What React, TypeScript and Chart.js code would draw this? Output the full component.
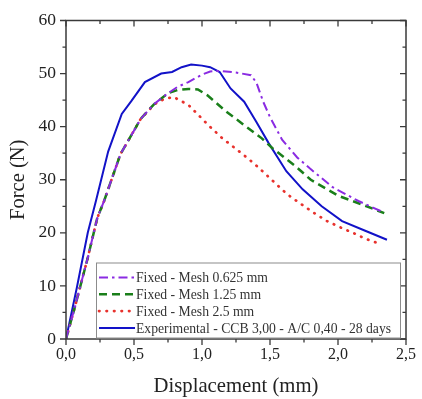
import React, { useEffect, useRef } from "react";
import { Chart, registerables } from "chart.js";

Chart.register(...registerables);

const mesh0625X = [0, 0.065, 0.16, 0.23, 0.28, 0.4, 0.55, 0.65, 0.75, 0.82, 0.9, 1.0, 1.06, 1.13, 1.25, 1.36, 1.4, 1.45, 1.5, 1.59, 1.7, 1.79, 1.96, 2.15, 2.34];
const mesh0625Y = [0, 6, 15.3, 22.8, 26, 34.8, 41.5, 44.3, 46.3, 47.5, 48.4, 49.8, 50.4, 50.5, 50.2, 49.7, 48.3, 44.7, 41.8, 37.5, 34.2, 32.2, 28.6, 26, 23.8];

const mesh125X = [0, 0.065, 0.16, 0.23, 0.28, 0.4, 0.55, 0.65, 0.75, 0.82, 0.9, 0.97, 1.04, 1.18, 1.31, 1.44, 1.52, 1.69, 1.8, 2.0, 2.17, 2.34];
const mesh125Y = [0, 6, 15.3, 22.8, 26, 34.8, 41.5, 44.3, 46.3, 46.9, 47.1, 47.0, 45.9, 42.8, 40.3, 37.8, 35.9, 32.5, 30.0, 27.0, 25.4, 23.7];

const mesh25X = [0, 0.065, 0.16, 0.23, 0.28, 0.4, 0.55, 0.65, 0.72, 0.79, 0.9, 1.05, 1.15, 1.29, 1.39, 1.47, 1.57, 1.63, 1.73, 1.82, 1.92, 2.02, 2.11, 2.2, 2.3];
const mesh25Y = [0, 6, 15.3, 22.8, 26, 34.8, 41.5, 44.2, 45.2, 45.6, 44.1, 40.2, 37.8, 35, 32.9, 31, 28.6, 27.2, 25.4, 23.8, 22.2, 21.0, 20.0, 18.9, 18.0];

const expX = [0, 0.08, 0.16, 0.22, 0.31, 0.41, 0.48, 0.58, 0.7, 0.78, 0.85, 0.92, 1.0, 1.06, 1.13, 1.21, 1.31, 1.4, 1.49, 1.62, 1.74, 1.88, 2.03, 2.2, 2.36];
const expY = [0, 9.7, 20, 26, 35.3, 42.4, 44.8, 48.4, 50, 50.3, 51.2, 51.7, 51.5, 51.2, 50.3, 47.2, 44.7, 40.9, 36.9, 31.6, 28.2, 25, 22.2, 20.4, 18.7];

const seriesLabels = [
  "Fixed - Mesh 0.625 mm",
  "Fixed - Mesh 1.25 mm",
  "Fixed - Mesh 2.5 mm",
  "Experimental - CCB 3,00 - A/C 0,40 - 28 days",
];

const xTickValues = [0, 0.5, 1.0, 1.5, 2.0, 2.5];
const yTickValues = [0, 10, 20, 30, 40, 50, 60];

const FONT = "'Liberation Serif', 'Times New Roman', serif";

const zip = (xs: number[], ys: number[]) => xs.map((x, i) => ({ x, y: ys[i] }));

const framePlugin = {
  id: "frameTicks",
  afterDraw(chart: any) {
    const { ctx, chartArea, scales } = chart;
    const { left, right, top, bottom } = chartArea;
    const xs = scales.x;
    const ys = scales.y;
    ctx.save();
    ctx.strokeStyle = "#3a3a3a";
    ctx.lineWidth = 1.5;
    ctx.strokeRect(left, top, right - left, bottom - top);
    ctx.lineWidth = 1.3;
    ctx.beginPath();
    // ticks all point down (x) / left (y): outward at bottom & left, inward at top & right
    for (let i = 0; i < xTickValues.length; i++) {
      const v = xTickValues[i];
      const px = xs.getPixelForValue(v);
      ctx.moveTo(px, bottom); ctx.lineTo(px, bottom + 6);
      ctx.moveTo(px, top); ctx.lineTo(px, top + 6);
      if (i < xTickValues.length - 1) {
        const m = xs.getPixelForValue((v + xTickValues[i + 1]) / 2);
        ctx.moveTo(m, bottom); ctx.lineTo(m, bottom + 3.5);
        ctx.moveTo(m, top); ctx.lineTo(m, top + 3.5);
      }
    }
    for (let i = 0; i < yTickValues.length; i++) {
      const v = yTickValues[i];
      const py = ys.getPixelForValue(v);
      ctx.moveTo(left, py); ctx.lineTo(left - 6, py);
      ctx.moveTo(right, py); ctx.lineTo(right - 6, py);
      if (i < yTickValues.length - 1) {
        const m = ys.getPixelForValue((v + yTickValues[i + 1]) / 2);
        ctx.moveTo(left, m); ctx.lineTo(left - 3.5, m);
        ctx.moveTo(right, m); ctx.lineTo(right - 3.5, m);
      }
    }
    ctx.stroke();

    // legend box
    const bx = left + 30;
    const by = top + 242;
    const bw = 304;
    const bh = 75;
    ctx.fillStyle = "#ffffff";
    ctx.fillRect(bx, by, bw, bh);
    ctx.strokeStyle = "#8c8c8c";
    ctx.lineWidth = 1;
    ctx.strokeRect(bx + 0.5, by + 0.5, bw, bh);
    chart.data.datasets.forEach((ds: any, i: number) => {
      const ry = by + 15 + i * 16.8;
      ctx.save();
      ctx.strokeStyle = ds.borderColor;
      ctx.lineWidth = ds.borderWidth;
      ctx.lineCap = ds.borderCapStyle || "butt";
      ctx.setLineDash(ds.borderDash || []);
      ctx.beginPath();
      ctx.moveTo(bx + 3, ry);
      ctx.lineTo(bx + 39, ry);
      ctx.stroke();
      ctx.restore();
      ctx.fillStyle = "#333333";
      ctx.font = `13.7px ${FONT}`;
      ctx.textBaseline = "middle";
      ctx.textAlign = "left";
      ctx.fillText(ds.label, bx + 40, ry + 1);
    });
    ctx.restore();
  },
};

export default function App() {
  const ref = useRef<HTMLCanvasElement | null>(null);
  useEffect(() => {
    if (!ref.current) return;
    const chart = new Chart(ref.current, {
      type: "line",
      data: {
        datasets: [
          {
            label: seriesLabels[0],
            data: zip(mesh0625X, mesh0625Y),
            borderColor: "#8a2be2",
            borderWidth: 2,
            borderDash: [9, 4, 2.5, 4],
            pointRadius: 0,
          },
          {
            label: seriesLabels[1],
            data: zip(mesh125X, mesh125Y),
            borderColor: "#1a7f1a",
            borderWidth: 2.5,
            borderDash: [8, 5],
            pointRadius: 0,
          },
          {
            label: seriesLabels[2],
            data: zip(mesh25X, mesh25Y),
            borderColor: "#e8322d",
            borderWidth: 2.7,
            borderDash: [0.5, 7],
            borderCapStyle: "round",
            pointRadius: 0,
          },
          {
            label: seriesLabels[3],
            data: zip(expX, expY),
            borderColor: "#1212c8",
            borderWidth: 2,
            pointRadius: 0,
          },
        ] as any,
      },
      options: {
        animation: false,
        responsive: false,
        maintainAspectRatio: false,
        layout: { padding: { top: 18, right: 10, left: 0, bottom: 0 } },
        plugins: { legend: { display: false }, tooltip: { enabled: false } },
        elements: { line: { tension: 0 } },
        scales: {
          x: {
            type: "linear",
            min: 0,
            max: 2.5,
            afterFit: (s: any) => { s.height = 60; },
            afterBuildTicks: (s: any) => { s.ticks = xTickValues.map((v) => ({ value: v })); },
            grid: { display: false, drawTicks: false },
            border: { display: false },
            ticks: {
              padding: 6,
              color: "#222",
              font: { family: FONT, size: 16 },
              maxRotation: 0,
              callback: (v: any) => Number(v).toFixed(1).replace(".", ","),
            },
            title: {
              display: true,
              text: "Displacement (mm)",
              color: "#222",
              font: { family: FONT, size: 20.7 },
              padding: { top: 0, bottom: 0 },
            },
          },
          y: {
            type: "linear",
            min: 0,
            max: 60,
            afterFit: (s: any) => { s.width = 66; },
            afterBuildTicks: (s: any) => { s.ticks = yTickValues.map((v) => ({ value: v })); },
            grid: { display: false, drawTicks: false },
            border: { display: false },
            ticks: {
              padding: 10,
              color: "#222",
              font: { family: FONT, size: 17.5 },
            },
            title: {
              display: true,
              text: "Force (N)",
              color: "#222",
              font: { family: FONT, size: 20.5 },
              padding: { top: 6, bottom: 0 },
            },
          },
        },
      },
      plugins: [framePlugin],
    });
    return () => chart.destroy();
  }, []);
  return (
    <div style={{ position: "absolute", left: 0, top: 0, width: 422, height: 399, background: "#fff" }}>
      <canvas ref={ref} width={422} height={399} style={{ width: 422, height: 399 }} />
    </div>
  );
}
